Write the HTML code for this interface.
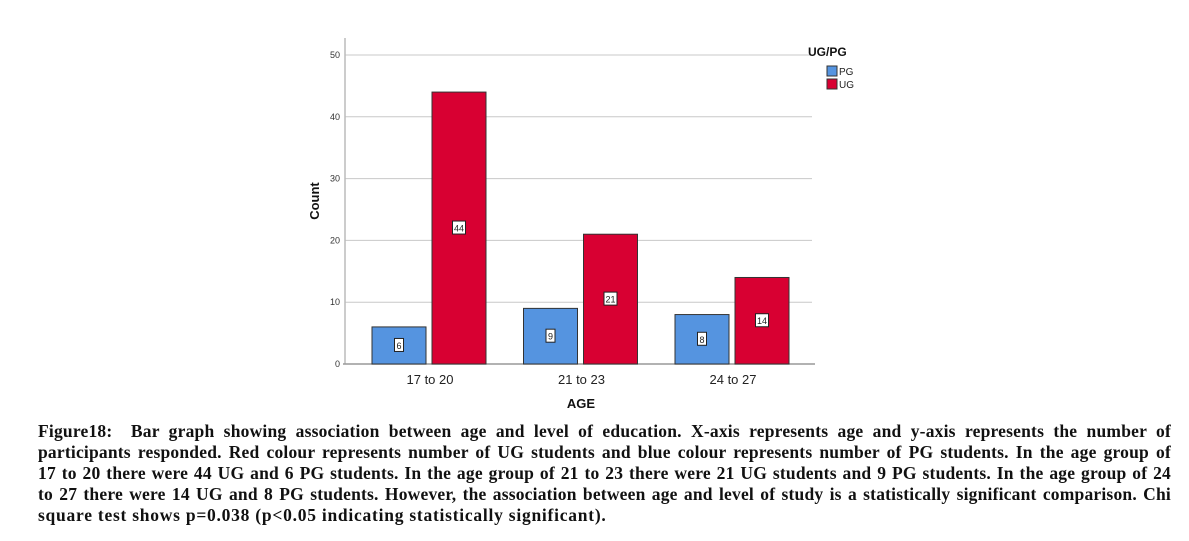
<!DOCTYPE html>
<html><head><meta charset="utf-8"><style>
body{margin:0;background:#fff;width:1189px;height:541px;overflow:hidden;position:relative;font-family:"Liberation Sans",sans-serif}
#cap{position:absolute;left:38px;top:421px;width:1133px;font-family:"Liberation Serif",serif;font-weight:bold;font-size:17.5px;line-height:21px;color:#111}
#cap div{white-space:nowrap;text-align:justify;text-align-last:justify;letter-spacing:0.2px}
#cap div.last{text-align-last:left;letter-spacing:0.75px}
</style></head><body>
<svg id="chart" width="1189" height="420" style="position:absolute;left:0;top:0"></svg>
<div id="cap">
<div>Figure18:&nbsp; Bar graph showing association between age and level of education. X-axis represents age and y-axis represents the number of</div>
<div>participants responded. Red colour represents number of UG students and blue colour represents number of PG students. In the age group of</div>
<div>17 to 20 there were 44 UG and 6 PG students. In the age group of 21 to 23 there were 21 UG students and 9 PG students. In the age group of 24</div>
<div>to 27 there were 14 UG and 8 PG students. However, the association between age and level of study is a statistically significant comparison. Chi</div>
<div class="last">square test shows p=0.038 (p&lt;0.05 indicating statistically significant).</div>
</div>
<script>
const categories=["17 to 20","21 to 23","24 to 27"];
const pgValues=[6,9,8];
const ugValues=[44,21,14];
const yTicks=[0,10,20,30,40,50];
const NS="http://www.w3.org/2000/svg";
const svg=document.getElementById('chart');
function y(v){return 364-v*6.18;}
function gx(i){return 430+i*151.5;}
function mk(t,a,txt){const e=document.createElementNS(NS,t);for(const k in a)e.setAttribute(k,a[k]);if(txt!==undefined)e.textContent=txt;svg.appendChild(e);return e;}
yTicks.forEach(v=>{
 if(v>0){const g=mk('line',{x1:345,x2:812,y1:y(v),y2:y(v),stroke:'#c8c8c8','stroke-width':1});
 
 }
 const t=mk('text',{x:340,y:y(v)+3,'text-anchor':'end','font-size':9,fill:'#333'},v);
 
 
});
const ax=mk('line',{x1:345,x2:345,y1:38,y2:364,stroke:'#bbb','stroke-width':1.5});


const bx=mk('line',{x1:343,x2:815,y1:364,y2:364,stroke:'#999','stroke-width':1.5});


function bar(x,v,col,name){
 const r=mk('rect',{x:x,y:y(v),width:54,height:v*6.18,fill:col,stroke:'#333','stroke-width':1});
 
 
 const cy=y(v/2);const w=String(v).length>1?13:9;
 const b=mk('rect',{x:x+27-w/2,y:cy-7,width:w,height:13,fill:'#fff',stroke:'#222','stroke-width':1});
 
 
 const t=mk('text',{x:x+27,y:cy+3.5,'text-anchor':'middle','font-size':9,fill:'#222'},v);
 
 
}
categories.forEach((c,i)=>{
 bar(gx(i)-58,pgValues[i],'#5594e0','bar-pg-'+i);
 bar(gx(i)+2,ugValues[i],'#d80032','bar-ug-'+i);
 const t=mk('text',{x:gx(i),y:384,'text-anchor':'middle','font-size':13,fill:'#222'},c);
 
 
});
const xt=mk('text',{x:581,y:408,'text-anchor':'middle','font-size':13,'font-weight':'bold',fill:'#111'},'AGE');


const yt=mk('text',{x:319,y:201,'text-anchor':'middle','font-size':13,'font-weight':'bold',fill:'#111',transform:'rotate(-90 319 201)'},'Count');


const lt=mk('text',{x:808,y:56,'font-size':12,'font-weight':'bold',fill:'#111'},'UG/PG');


[['PG','#5594e0',66],['UG','#d80032',79]].forEach(([n,c,yy])=>{
 const r=mk('rect',{x:827,y:yy,width:10,height:10,fill:c,stroke:'#333','stroke-width':1});
 
 
 const t=mk('text',{x:839,y:yy+9,'font-size':10,fill:'#222'},n);
 
 
});
</script>
</body></html>
